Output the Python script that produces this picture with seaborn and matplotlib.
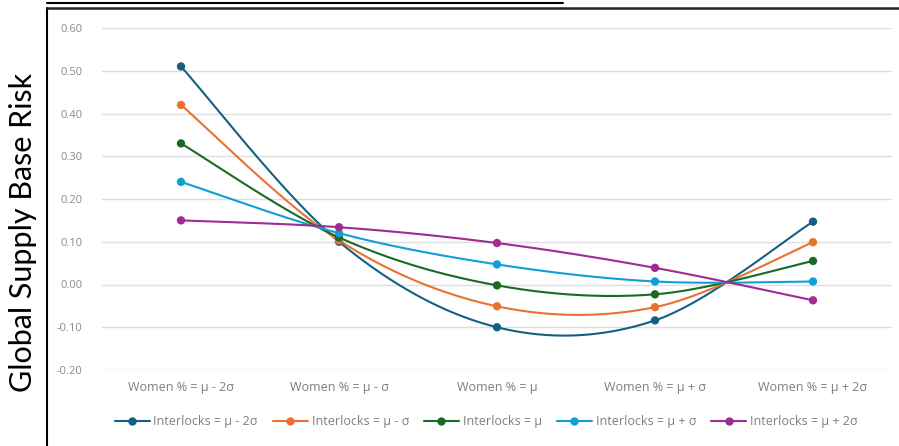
import matplotlib
matplotlib.use("Agg")
import matplotlib.pyplot as plt
from matplotlib.lines import Line2D
import numpy as np
import pandas as pd
import seaborn as sns

# data
categories = ["Women % = μ - 2σ", "Women % = μ - σ", "Women % = μ",
              "Women % = μ + σ", "Women % = μ + 2σ"]
series_names = ["Interlocks = μ - 2σ", "Interlocks = μ - σ", "Interlocks = μ",
                "Interlocks = μ + σ", "Interlocks = μ + 2σ"]
interlocks_m2s = [0.51, 0.10, -0.10, -0.084, 0.147]
interlocks_m1s = [0.42, 0.103, -0.051, -0.053, 0.099]
interlocks_mu = [0.33, 0.11, -0.002, -0.023, 0.055]
interlocks_p1s = [0.24, 0.12, 0.047, 0.007, 0.007]
interlocks_p2s = [0.15, 0.134, 0.097, 0.039, -0.037]
series_values = [interlocks_m2s, interlocks_m1s, interlocks_mu,
                 interlocks_p1s, interlocks_p2s]
yticks = [-0.20, -0.10, 0.00, 0.10, 0.20, 0.30, 0.40, 0.50, 0.60]

colors = ["#156082", "#E97132", "#196B24", "#0F9ED5", "#A02B93"]


def smooth_curve(xs, ys, n=40):
    """Excel-style smoothed line (cubic Bezier, 1/6 tangent control points)."""
    pts = np.column_stack([xs, ys]).astype(float)
    padded = np.vstack([pts[0], pts, pts[-1]])
    out = []
    t = np.linspace(0, 1, n)[:, None]
    for i in range(len(pts) - 1):
        p0, p1, p2, p3 = padded[i], padded[i + 1], padded[i + 2], padded[i + 3]
        c1 = p1 + (p2 - p0) / 6
        c2 = p2 - (p3 - p1) / 6
        seg = ((1 - t) ** 3) * p1 + 3 * ((1 - t) ** 2) * t * c1 \
            + 3 * (1 - t) * t ** 2 * c2 + t ** 3 * p2
        out.append(seg if i == 0 else seg[1:])
    seg = np.vstack(out)
    return seg[:, 0], seg[:, 1]


points = pd.DataFrame(
    [(i, v, name) for name, vals in zip(series_names, series_values)
     for i, v in enumerate(vals)],
    columns=["x", "risk", "series"],
)
curve_rows = []
for name, vals in zip(series_names, series_values):
    cx, cy = smooth_curve(np.arange(len(vals)), vals)
    curve_rows += [(a, b, name, k) for k, (a, b) in enumerate(zip(cx, cy))]
curves = pd.DataFrame(curve_rows, columns=["x", "risk", "series", "order"])

sns.set_style("white")
plt.rcParams["font.family"] = ["Open Sans", "DejaVu Sans"]

fig = plt.figure(figsize=(8.99, 4.46), dpi=100)
ax = fig.add_axes([102 / 899, 1 - 370 / 446, 790 / 899, 342 / 446])

palette = dict(zip(series_names, colors))
sns.lineplot(data=curves, x="x", y="risk", hue="series", units="series",
             estimator=None, sort=False, palette=palette, linewidth=1.5,
             legend=False, ax=ax, zorder=3)
sns.scatterplot(data=points, x="x", y="risk", hue="series", palette=palette,
                s=36, edgecolor="none", legend=False, ax=ax, zorder=4)

ax.set_xlim(-0.5, len(categories) - 0.5)
ax.set_ylim(yticks[0], yticks[-1])
ax.set_yticks(yticks)
ax.set_yticklabels([f"{v:.2f}" for v in yticks], color="#8a8a8a", fontsize=8)
ax.set_xticks(range(len(categories)))
ax.set_xticklabels(categories, color="#7f7f7f", fontsize=9)
ax.tick_params(length=0, pad=8)
ax.tick_params(axis="y", pad=14)
ax.grid(axis="y", color="#dedede", linewidth=1)
ax.set_axisbelow(True)
for s in ax.spines.values():
    s.set_visible(False)
ax.set_xlabel("")
ax.set_ylabel("")

fig.text(23 / 899, 1 - 232 / 446, "Global Supply Base Risk", rotation=90,
         ha="center", va="center", fontsize=22, color="black",
         family=["Lato", "DejaVu Sans"])

handles = [Line2D([0], [0], color=c, linewidth=1.5, marker="o", markersize=5)
           for c in colors]
fig.legend(handles, series_names, loc="center", ncol=5, frameon=False,
           bbox_to_anchor=(486 / 899, 1 - 422 / 446), fontsize=9,
           labelcolor="#7f7f7f", handlelength=2.8, handletextpad=0.3,
           columnspacing=1.2)

# border lines of the original screenshot
fig.add_artist(Line2D([46.5 / 899, 46.5 / 899], [0, 1 - 8 / 446],
                      color="black", linewidth=1.5, transform=fig.transFigure))
fig.add_artist(Line2D([46.5 / 899, 1], [1 - 8 / 446, 1 - 8 / 446],
                      color="#222222", linewidth=1.8, transform=fig.transFigure))
fig.add_artist(Line2D([46.5 / 899, 563 / 899], [1 - 3 / 446, 1 - 3 / 446],
                      color="black", linewidth=1.5, transform=fig.transFigure))

fig.savefig("out.png", dpi=100)
